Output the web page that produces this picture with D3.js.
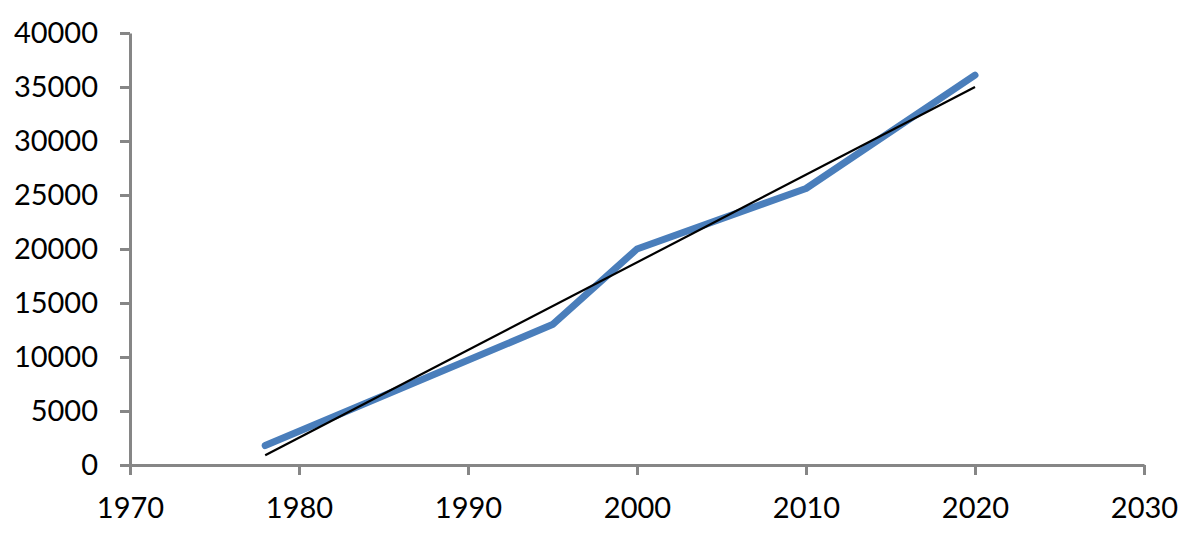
<!DOCTYPE html>
<html>
<head>
<meta charset="utf-8">
<script src="https://cdn.jsdelivr.net/npm/d3@7"></script>
<style>
    body { margin: 0; background: #fff; }
    .axis text { font-family: Lato, "Open Sans", sans-serif; font-size: 29px; fill: #000; }
    .axis path, .axis line { stroke: #868686; stroke-width: 3; }
</style>
</head>
<body>
<div id="graph"></div>
<script>
// series values
const years = [1978, 1995, 2000, 2010, 2020];
const values = [1800, 13000, 20000, 25600, 36100];

// trend line end points
const trendYears = [1978, 2020];
const trendValues = [900, 35000];

// tick labels
const xTicks = [1970, 1980, 1990, 2000, 2010, 2020, 2030];
const yTicks = [0, 5000, 10000, 15000, 20000, 25000, 30000, 35000, 40000];

const svgWidth = 1200;
const svgHeight = 538;

const svg = d3.select('#graph')
    .append('svg')
    .attr('width', svgWidth)
    .attr('height', svgHeight);

const xScale = d3.scaleLinear()
    .domain([1970, 2030])
    .range([130, 1144]);

const yScale = d3.scaleLinear()
    .domain([0, 40000])
    .range([465, 33]);

const xAxis = d3.axisBottom(xScale)
    .tickValues(xTicks)
    .tickFormat(d3.format('d'))
    .tickSizeInner(10)
    .tickSizeOuter(0)
    .tickPadding(22);

svg.append('g')
    .attr('class', 'axis')
    .attr('transform', 'translate(0, ' + yScale(0) + ')')
    .call(xAxis);

const yAxis = d3.axisLeft(yScale)
    .tickValues(yTicks)
    .tickFormat(d3.format('d'))
    .tickSizeInner(10)
    .tickSizeOuter(0)
    .tickPadding(22);

svg.append('g')
    .attr('class', 'axis')
    .attr('transform', 'translate(' + xScale(1970) + ', 0)')
    .call(yAxis);

const line = d3.line()
    .x(d => xScale(d[0]))
    .y(d => yScale(d[1]));

svg.append('path')
    .datum(d3.zip(years, values))
    .attr('d', line)
    .attr('fill', 'none')
    .attr('stroke', '#4a7ebb')
    .attr('stroke-width', 7)
    .attr('stroke-linecap', 'round')
    .attr('stroke-linejoin', 'round');

svg.append('path')
    .datum(d3.zip(trendYears, trendValues))
    .attr('d', line)
    .attr('fill', 'none')
    .attr('stroke', '#000')
    .attr('stroke-width', 2.2);
</script>
</body>
</html>
